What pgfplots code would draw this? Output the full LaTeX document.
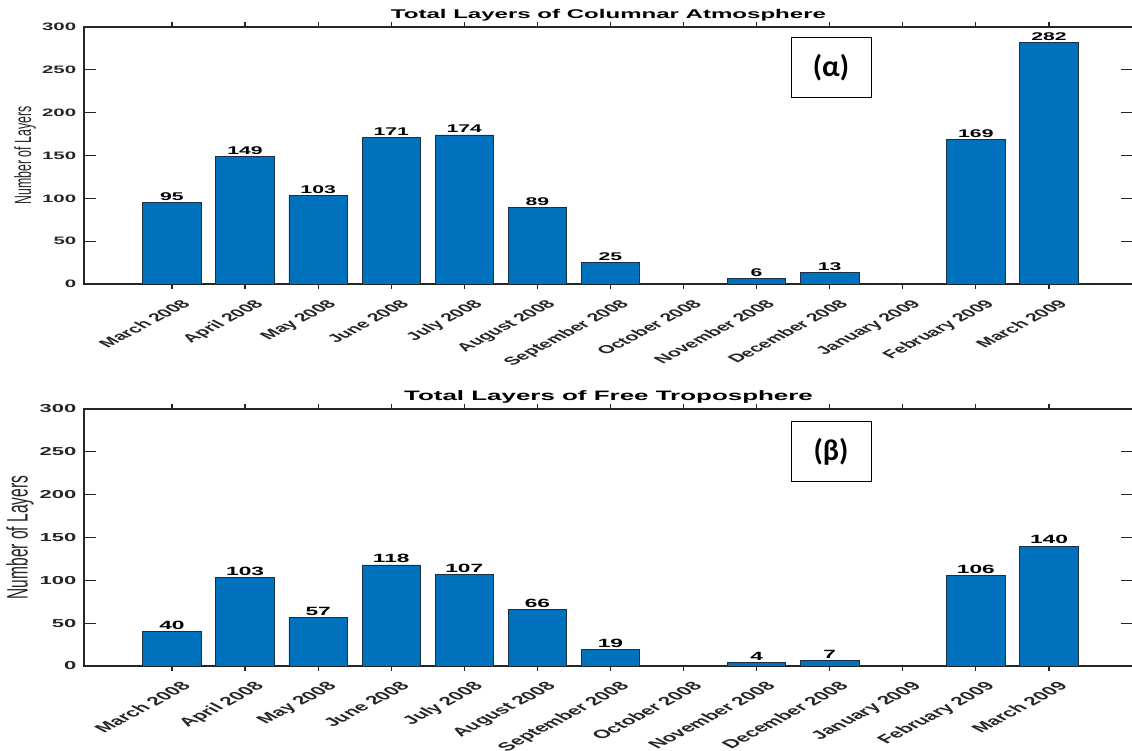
\documentclass[border=0pt]{standalone}
\usepackage{fontspec}
\setmainfont{Liberation Sans}
\newfontfamily\calib{Carlito}
\usepackage{pgfplots}
\pgfplotsset{compat=1.18}
\definecolor{barblue}{HTML}{0072BD}
\definecolor{baredge}{HTML}{1B2F45}
\definecolor{axgray}{HTML}{262626}
\pgfplotsset{
 mystyle/.style={
  scale only axis, width=524.5bp, height=128.5bp,
  xmin=-1.204, xmax=13.15, ymin=0, ymax=300,
  ytick={0,50,...,300}, xtick={0,...,12},
  xticklabels={March 2008,April 2008,May 2008,June 2008,July 2008,August 2008,September 2008,October 2008,November 2008,December 2008,January 2009,February 2009,March 2009},
  tick align=inside,
  axis line style={axgray, line width=0.8bp},
  tick style={axgray, line width=0.6bp},
  xtick style={/pgfplots/major tick length=2.5bp},
  ytick style={/pgfplots/major tick length=6bp},
  /pgf/number format/assume math mode=true,
  yticklabel style={xshift=-3.5bp, xscale=1.9, anchor=east, inner sep=0pt, text=axgray},
  xticklabel style={xshift=4bp, yshift=-3bp, xscale=1.9, rotate=45, anchor=north east, inner sep=0pt, text=axgray},
  ylabel={Number of Layers},
  every axis title/.style={at={(axis description cs:0.5,1)}, yshift=2.5bp, xscale=1.9, anchor=south, inner sep=0pt, text=black},
  ybar, bar width=0.8,
  nodes near coords, nodes near coords style={xscale=1.9, anchor=south, inner sep=0.8bp, text=black},
 }
}
\begin{document}
\begin{tikzpicture}
\useasboundingbox (0,0) rectangle (566bp,375.5bp);
\begin{axis}[mystyle, at={(42bp,233.5bp)}, anchor=south west,
  title={Total Layers of Columnar Atmosphere},
  title style={font=\fontsize{6.35}{8}\selectfont\bfseries},
  yticklabel style={font=\fontsize{5.4}{6}\selectfont\bfseries},
  xticklabel style={font=\fontsize{5.7}{7}\selectfont\bfseries},
  nodes near coords style={font=\fontsize{5.6}{6}\selectfont\bfseries},
  every axis y label/.style={at={(axis description cs:-0.0562,0.5)}, anchor=center, xscale=1.9, rotate=90, font=\fontsize{6.2}{7}\selectfont, text=axgray}]
\addplot[fill=barblue, draw=baredge, line width=0.4bp] coordinates {(0,95) (1,149) (2,103) (3,171) (4,174) (5,89) (6,25) (8,6) (9,13) (11,169) (12,282)};
\end{axis}
\begin{axis}[mystyle, at={(42bp,42.5bp)}, anchor=south west,
  title={Total Layers of Free Troposphere},
  title style={font=\fontsize{6.85}{8}\selectfont\bfseries},
  yticklabel style={font=\fontsize{5.8}{6}\selectfont\bfseries},
  xticklabel style={font=\fontsize{6}{7}\selectfont\bfseries},
  nodes near coords style={font=\fontsize{6}{6}\selectfont\bfseries},
  every axis y label/.style={at={(axis description cs:-0.061,0.5)}, anchor=center, xscale=1.9, rotate=90, font=\fontsize{7.8}{9}\selectfont, text=axgray}]
\addplot[fill=barblue, draw=baredge, line width=0.4bp] coordinates {(0,40) (1,103) (2,57) (3,118) (4,107) (5,66) (6,19) (8,4) (9,7) (11,106) (12,140)};
\end{axis}
\node[draw=black, line width=0.5bp, fill=white, minimum width=40bp, minimum height=30bp, inner sep=0pt, font=\calib\bfseries\fontsize{15}{18}\selectfont] at (415.5bp,341.5bp) {(α)};
\node[draw=black, line width=0.5bp, fill=white, minimum width=40bp, minimum height=30bp, inner sep=0pt, font=\calib\bfseries\fontsize{15}{18}\selectfont] at (415.5bp,149.5bp) {(β)};
\end{tikzpicture}
\end{document}
